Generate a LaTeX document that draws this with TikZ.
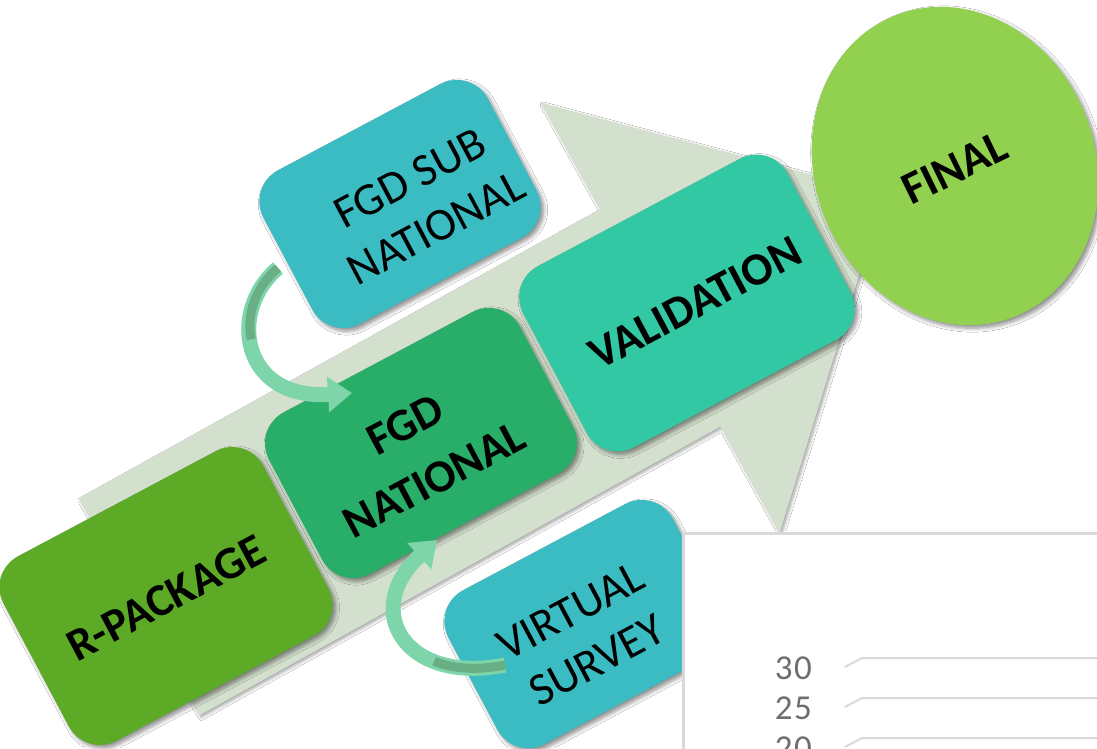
\documentclass[tikz,border=0pt]{standalone}
\usepackage{fontspec}
\setmainfont{Carlito}
\usetikzlibrary{shadows.blur,arrows.meta}
\definecolor{arrowbg}{HTML}{D4E0CE}
\definecolor{rgreen}{HTML}{5CAA26}
\definecolor{fgdgreen}{HTML}{29AE69}
\definecolor{valgreen}{HTML}{32C8A4}
\definecolor{tealbox}{HTML}{3ABCC2}
\definecolor{finalgreen}{HTML}{92D050}
\definecolor{curvlight}{HTML}{7ED5A9}
\definecolor{curvdark}{HTML}{6AAE86}
\definecolor{chartborder}{HTML}{D9D9D9}
\definecolor{charttext}{HTML}{6E6E6E}
\tikzset{
  shad/.style={blur shadow={shadow xshift=3pt,shadow yshift=-3pt,shadow opacity=45,shadow blur steps=6,shadow blur radius=4pt}},
  box/.style={rectangle,rounded corners=35pt,rotate=28,inner sep=0pt,shad},
  boldlbl/.style={rotate=28,align=center,font=\fontsize{46}{62}\selectfont\bfseries},
  reglbl/.style={rotate=28,align=center,font=\fontsize{46}{56}\selectfont},
  curvbody/.style={line width=15pt,curvlight,line cap=butt},
  curvface/.style={line width=9pt,curvdark,line cap=butt},
  gridln/.style={chartborder,line width=2pt},
  axlbl/.style={anchor=east,text=charttext,font=\fontsize{35}{35}\selectfont\addfontfeature{LetterSpace=4},inner sep=0pt}
}
\begin{document}
\begin{tikzpicture}[x=1pt,y=-1pt]
\useasboundingbox (0,0) rectangle (1097,748);
\fill[white] (0,0) rectangle (1097,748);

% big background arrow
\begin{scope}[shift={(139,607)},rotate=29]
\fill[arrowbg,blur shadow={shadow xshift=2pt,shadow yshift=-2pt,shadow opacity=35,shadow blur radius=3pt}]
  (0,-124) -- (596,-124) -- (596,-246) -- (852,0) -- (596,246) -- (596,124) -- (0,124) -- cycle;
\end{scope}

% final ellipse
\fill[finalgreen,shad,rotate around={22:(955,166)}] (955,166) ellipse [x radius=140pt, y radius=162pt];
\node[boldlbl,rotate=-2] (tfinal) at (955,168) {FINAL};

% boxes
\node[box,fill=rgreen,minimum width=294pt,minimum height=209pt] (rpk) at (166,596) {};
\node[box,fill=fgdgreen,minimum width=284pt,minimum height=183pt] (fgd) at (421,443) {};
\node[box,fill=valgreen,minimum width=299pt,minimum height=205pt] (val) at (687,303) {};
\node[box,fill=tealbox,minimum width=254pt,minimum height=174pt] (sub) at (400,204) {};
\node[box,fill=tealbox,minimum width=254pt,minimum height=174pt] (vs) at (585,624) {};

\node[boldlbl] (trpk) at (166,598) {R-PACKAGE};
\node[boldlbl] (tfgd) at (420,452) {FGD\\NATIONAL};
\node[boldlbl] (tval) at (695,303) {VALIDATION};
\node[reglbl] (tsub) at (423,203) {FGD SUB\\NATIONAL};
\node[reglbl] (tvs) at (584,636) {VIRTUAL\\SURVEY};

% curved arrows
\coordinate (a1s) at (278,268);
\coordinate (a1e) at (352,393);
\coordinate (a2s) at (505,665);
\coordinate (a2e) at (437,540);
\draw[curvbody,-{Triangle[width=34pt,length=24pt]}] (a1s) .. controls (228,310) and (240,400) .. (a1e);
\draw[curvface,dash pattern=on 80pt off 2000pt] (a1s) .. controls (228,310) and (240,400) .. (a1e);
\draw[curvbody,-{Triangle[width=34pt,length=24pt]}] (a2s) .. controls (405,685) and (360,610) .. (a2e);
\draw[curvface,dash pattern=on 72pt off 2000pt] (a2s) .. controls (405,685) and (360,610) .. (a2e);

% chart fragment
\draw[chartborder,line width=3pt,fill=white] (683,533) rectangle (1120,770);
\coordinate (g1a) at (845,667); \coordinate (g1b) at (862,658); \coordinate (g1c) at (1110,658);
\coordinate (g2a) at (845,707); \coordinate (g2b) at (862,698); \coordinate (g2c) at (1110,698);
\coordinate (g3a) at (845,747); \coordinate (g3b) at (862,738); \coordinate (g3c) at (1110,738);
\draw[gridln] (g1a) -- (g1b) -- (g1c);
\draw[gridln] (g2a) -- (g2b) -- (g2c);
\draw[gridln] (g3a) -- (g3b) -- (g3c);
\node[axlbl] (l30) at (812,668) {30};
\node[axlbl] (l25) at (812,708) {25};
\node[axlbl] (l20) at (812,748) {20};
\end{tikzpicture}
\end{document}
